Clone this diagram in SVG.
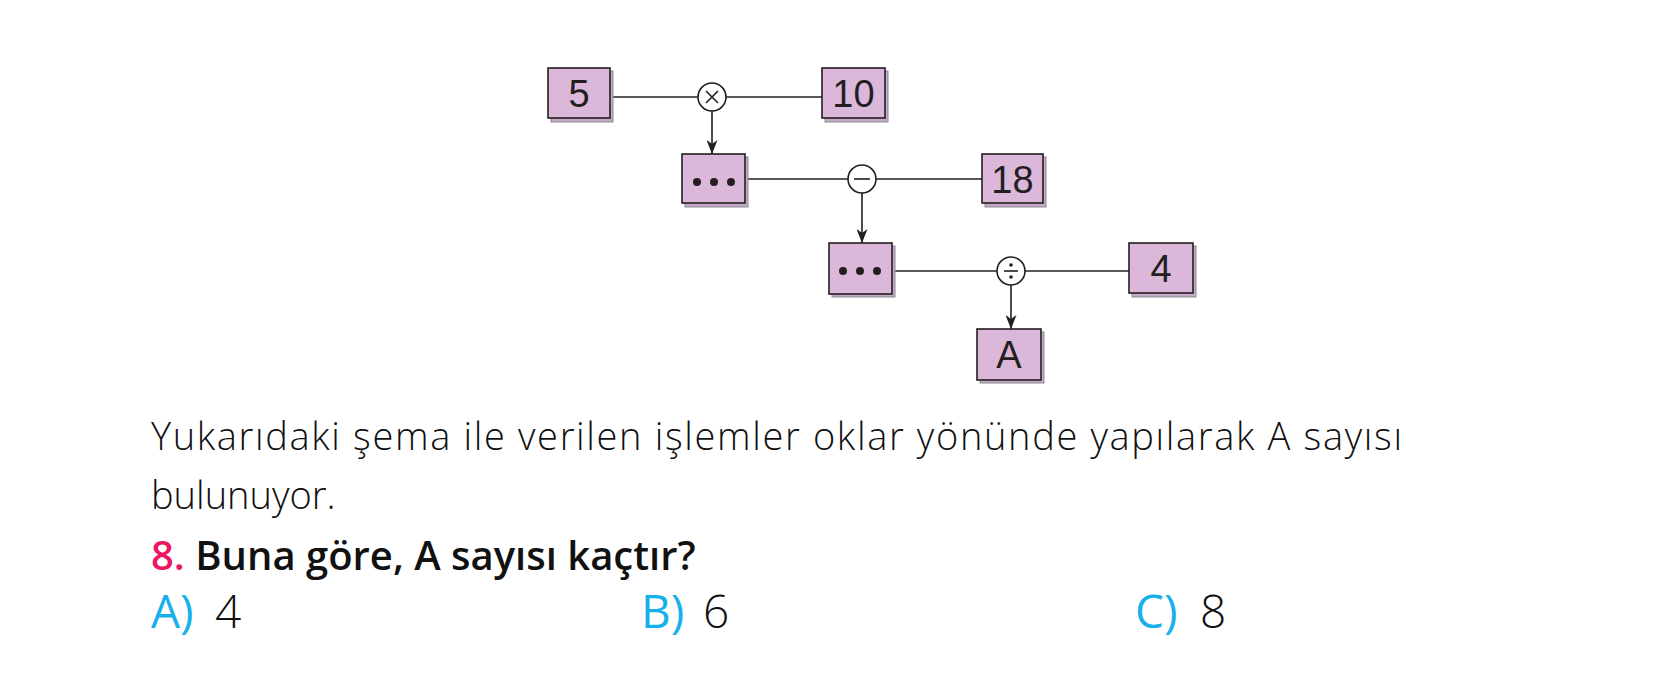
<svg xmlns="http://www.w3.org/2000/svg" width="1654" height="695" viewBox="0 0 1654 695">
<style>
.sh{fill:#c4aac6;stroke:#8f8a94;stroke-width:1}
.bx{fill:#dbb8d9;stroke:#231f20;stroke-width:1.6}
.num{font-family:"Liberation Sans",Arial,sans-serif;font-size:38px;fill:#231f20;text-anchor:middle}
.ln{stroke:#231f20;stroke-width:1.6;fill:none}
.op{fill:#fff;stroke:#231f20;stroke-width:1.6}
.dot{fill:#231f20}
.t{font-family:"Open Sans","Liberation Sans",sans-serif;font-weight:300;fill:#111}
.q{font-family:"Open Sans","Liberation Sans",sans-serif;font-weight:600;fill:#111}
.c{fill:#16b1ea;font-weight:400}
</style>
<defs>
<marker id="ah" markerWidth="14" markerHeight="11" refX="14" refY="5.5" orient="auto" markerUnits="userSpaceOnUse" viewBox="0 0 14 11">
<path d="M0,0 L4,5.5 L0,11 L14,5.5 Z" fill="#231f20"/>
</marker>
</defs>
<rect width="1654" height="695" fill="#fff"/>
<g id="connectors">
<line class="ln" x1="610" y1="97" x2="698" y2="97"/>
<line class="ln" x1="726" y1="97" x2="822" y2="97"/>
<line class="ln" x1="712" y1="111" x2="712" y2="154" marker-end="url(#ah)"/>
<line class="ln" x1="745" y1="179" x2="848" y2="179"/>
<line class="ln" x1="876" y1="179" x2="982" y2="179"/>
<line class="ln" x1="862" y1="193" x2="862" y2="243" marker-end="url(#ah)"/>
<line class="ln" x1="892" y1="271" x2="997" y2="271"/>
<line class="ln" x1="1025" y1="271" x2="1129" y2="271"/>
<line class="ln" x1="1011" y1="285" x2="1011" y2="329" marker-end="url(#ah)"/>
</g>
<g id="op-times">
<circle class="op" cx="712" cy="97" r="14"/>
<path class="ln" d="M706,91 L718,103 M718,91 L706,103"/>
</g>
<g id="op-minus">
<circle class="op" cx="862" cy="179" r="14"/>
<path class="ln" d="M854,179 L870,179"/>
</g>
<g id="op-div">
<circle class="op" cx="1011" cy="271" r="14"/>
<path class="ln" d="M1004,271 L1018,271"/>
<circle class="dot" cx="1011" cy="265" r="1.8"/>
<circle class="dot" cx="1011" cy="277" r="1.8"/>
</g>
<g id="box-5">
<rect class="sh" x="551" y="71" width="62" height="51"/>
<rect class="bx" x="548" y="68" width="62" height="50"/>
<text class="num" x="579" y="107">5</text>
</g>
<g id="box-10">
<rect class="sh" x="825" y="71" width="63" height="51"/>
<rect class="bx" x="822" y="68" width="63" height="50"/>
<text class="num" x="853.5" y="107">10</text>
</g>
<g id="box-dots1">
<rect class="sh" x="685" y="157" width="63" height="50"/>
<rect class="bx" x="682" y="154" width="63" height="49"/>
<circle class="dot" cx="697" cy="182" r="4"/>
<circle class="dot" cx="714" cy="182" r="4"/>
<circle class="dot" cx="731" cy="182" r="4"/>
</g>
<g id="box-18">
<rect class="sh" x="985" y="157" width="61" height="50"/>
<rect class="bx" x="982" y="154" width="61" height="49"/>
<text class="num" x="1012.5" y="193">18</text>
</g>
<g id="box-dots2">
<rect class="sh" x="832" y="246" width="63" height="51"/>
<rect class="bx" x="829" y="243" width="63" height="51"/>
<circle class="dot" cx="843" cy="271" r="4"/>
<circle class="dot" cx="860" cy="271" r="4"/>
<circle class="dot" cx="877" cy="271" r="4"/>
</g>
<g id="box-4">
<rect class="sh" x="1132" y="246" width="64" height="51"/>
<rect class="bx" x="1129" y="243" width="64" height="50"/>
<text class="num" x="1161" y="282">4</text>
</g>
<g id="box-A">
<rect class="sh" x="980" y="332" width="64" height="51"/>
<rect class="bx" x="977" y="329" width="64" height="51"/>
<text class="num" x="1009" y="368">A</text>
</g>
<g id="question">
<text class="t" x="151" y="450" font-size="38" textLength="1251" lengthAdjust="spacing">Yukarıdaki şema ile verilen işlemler oklar yönünde yapılarak A sayısı</text>
<text class="t" x="151" y="509" font-size="38">bulunuyor.</text>
<text class="q" x="151" y="570" font-size="40"><tspan fill="#ec1763">8.</tspan> Buna göre, A sayısı kaçtır?</text>
<text class="t c" x="151" y="628" font-size="46">A)</text>
<text class="t" x="215" y="628" font-size="46">4</text>
<text class="t c" x="641" y="628" font-size="46">B)</text>
<text class="t" x="703" y="628" font-size="46">6</text>
<text class="t c" x="1135" y="628" font-size="46">C)</text>
<text class="t" x="1200" y="628" font-size="46">8</text>
</g>
</svg>
